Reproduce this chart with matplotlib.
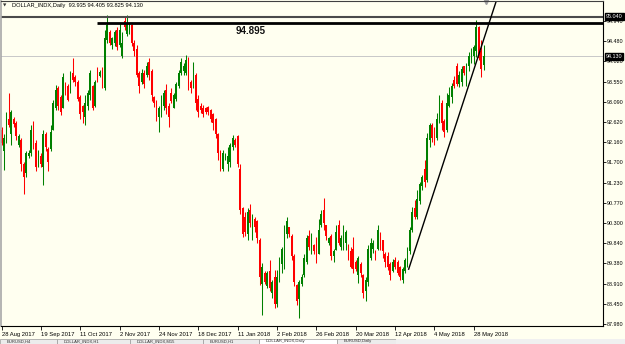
import matplotlib
matplotlib.use("Agg")
import matplotlib.pyplot as plt
import numpy as np
from matplotlib.patches import Rectangle

# DOLLAR_INDX daily candles, 28 Aug 2017 -> 1 Jun 2018
opens = [92.45, 91.95, 92.20, 92.70, 92.35, 92.70, 92.60, 92.10, 92.20, 91.65,
         91.45, 91.85, 91.90, 92.40, 92.15, 91.65, 91.85, 91.60, 92.35, 92.00,
         92.00, 92.45, 92.95, 93.40, 93.20, 92.95, 93.50, 93.45, 93.30, 93.75,
         93.65, 93.55, 93.20, 93.00, 92.75, 93.00, 93.25, 93.45, 93.00, 93.75,
         93.68, 93.80, 93.40, 94.50, 94.70, 94.40, 94.45, 94.75, 94.40, 94.15,
         94.95, 94.65, 94.70, 94.85, 94.45, 94.30, 93.75, 93.55, 93.75, 93.70,
         94.00, 93.80, 93.20, 93.05, 92.75, 92.85, 93.00, 93.35, 93.00, 93.30,
         92.95, 93.15, 93.45, 93.75, 93.80, 93.75, 94.05, 93.55, 93.45, 93.70,
         93.15, 93.00, 92.95, 92.95, 92.98, 92.90, 92.80, 92.70, 92.35, 91.95,
         91.55, 91.80, 91.65, 91.70, 92.05, 92.20, 92.30, 91.55, 90.65, 90.45,
         90.05, 90.60, 90.00, 90.40, 90.35, 89.90, 88.90, 89.15, 88.85, 89.20,
         88.70, 89.05, 88.45, 89.00, 89.35, 89.65, 90.05, 90.20, 90.00, 89.55,
         88.88, 88.55, 88.90, 89.10, 89.40, 90.00, 89.65, 89.80, 89.90, 89.60,
         90.25, 90.60, 90.25, 89.85, 90.00, 89.55, 89.68, 90.25, 89.75, 89.75,
         89.85, 89.80, 89.65, 89.70, 89.40, 89.10, 89.35, 89.10, 88.75, 88.95,
         89.50, 89.70, 89.65, 89.70, 90.05, 89.90, 89.60, 89.55, 89.35, 89.20,
         89.45, 89.40, 89.30, 89.00, 89.20, 89.40, 89.65, 90.15, 90.65, 90.45,
         90.80, 91.15, 91.55, 91.30, 92.20, 92.55, 92.35, 92.25, 92.65, 93.05,
         92.65, 92.45, 93.00, 93.20, 93.60, 93.90, 93.50, 93.55, 93.90, 93.70,
         93.90, 94.05, 94.15, 94.25, 94.80, 94.25, 93.935]
highs = [92.50, 92.35, 92.85, 93.28, 92.90, 92.75, 92.65, 92.35, 92.25, 91.70,
         91.95, 91.98, 92.55, 92.65, 92.20, 91.98, 91.90, 92.45, 92.40, 92.05,
         92.55, 93.13, 93.47, 93.45, 93.25, 93.75, 93.55, 93.50, 93.80, 94.10,
         93.70, 93.60, 93.25, 93.02, 93.25, 93.36, 93.82, 93.48, 93.60, 93.89,
         93.82, 93.88, 94.74, 95.08, 94.75, 94.58, 94.74, 94.80, 94.90, 94.70,
         95.04, 95.08, 94.90, 94.88, 94.50, 94.40, 93.80, 93.85, 93.82, 94.00,
         94.10, 93.85, 93.22, 93.12, 93.00, 93.25, 93.36, 93.50, 93.05, 93.40,
         93.28, 93.55, 93.82, 94.10, 93.98, 94.16, 94.12, 93.60, 94.00, 93.75,
         93.25, 93.05, 93.01, 92.98, 93.00, 92.92, 92.82, 92.72, 92.37, 91.98,
         91.98, 91.90, 92.05, 92.15, 92.32, 92.25, 92.32, 91.65, 90.67, 90.55,
         90.65, 90.75, 90.50, 90.45, 90.37, 89.95, 89.38, 89.20, 89.20, 89.45,
         89.00, 89.22, 89.22, 89.52, 89.75, 90.26, 90.44, 90.22, 90.05, 89.58,
         88.90, 89.00, 89.12, 89.60, 90.03, 90.14, 90.08, 89.82, 89.98, 90.40,
         90.60, 90.88, 90.26, 89.98, 90.05, 89.70, 90.26, 90.37, 90.03, 90.26,
         90.14, 89.82, 89.75, 89.98, 89.45, 89.55, 89.40, 89.12, 89.05, 89.80,
         89.95, 89.91, 89.68, 90.26, 90.10, 89.91, 89.63, 89.63, 89.40, 89.48,
         89.52, 89.45, 89.32, 89.30, 89.50, 89.75, 90.20, 90.67, 90.83, 91.06,
         91.25, 91.40, 91.75, 92.37, 92.60, 92.60, 92.50, 92.83, 93.25, 93.13,
         92.70, 93.30, 93.43, 93.52, 93.68, 93.98, 93.80, 93.92, 93.92, 93.98,
         94.23, 94.32, 94.40, 94.97, 94.82, 94.50, 94.405]
lows = [92.10, 91.52, 92.15, 92.50, 92.10, 92.50, 92.20, 92.05, 91.50, 90.98,
        91.35, 91.80, 91.85, 92.00, 91.50, 91.60, 91.60, 91.18, 91.95, 91.50,
        91.95, 92.45, 92.90, 92.90, 92.78, 92.95, 93.25, 93.10, 93.28, 93.55,
        93.45, 93.10, 92.70, 92.60, 92.55, 92.90, 93.13, 92.90, 92.98, 93.55,
        93.65, 93.40, 93.36, 94.45, 94.40, 94.30, 94.38, 94.28, 94.35, 94.10,
        94.75, 94.60, 94.65, 94.38, 94.15, 93.65, 93.30, 93.50, 93.40, 93.65,
        93.60, 93.10, 92.98, 92.65, 92.40, 92.75, 92.90, 92.80, 92.50, 93.05,
        92.95, 93.10, 93.40, 93.70, 93.70, 93.70, 93.36, 93.30, 93.40, 92.90,
        92.75, 92.82, 92.75, 92.80, 92.78, 92.62, 92.45, 92.25, 91.75, 91.50,
        91.50, 91.75, 91.50, 91.60, 91.98, 92.05, 91.60, 90.50, 89.98, 90.00,
        89.91, 90.20, 89.91, 90.10, 89.85, 88.88, 88.19, 88.90, 88.80, 88.75,
        88.58, 88.35, 88.38, 88.95, 89.15, 89.25, 89.95, 89.98, 89.45, 88.85,
        88.42, 88.12, 88.85, 89.05, 89.35, 89.68, 89.60, 89.60, 89.38, 89.60,
        90.20, 90.14, 89.90, 89.80, 89.45, 89.40, 89.68, 89.80, 89.68, 89.68,
        89.68, 89.45, 89.27, 89.15, 89.20, 88.92, 89.05, 88.58, 88.50, 88.85,
        89.45, 89.62, 89.45, 89.68, 89.68, 89.50, 89.30, 89.22, 88.99, 89.18,
        89.25, 89.11, 89.00, 88.92, 89.15, 89.28, 89.60, 90.10, 90.40, 90.40,
        90.75, 91.05, 91.13, 91.25, 92.05, 92.16, 92.10, 92.20, 92.60, 92.44,
        92.28, 92.40, 92.98, 93.05, 93.40, 93.45, 93.43, 93.45, 93.70, 93.45,
        93.80, 93.98, 93.95, 94.12, 94.05, 93.66, 93.825]
closes = [92.15, 92.25, 92.70, 92.55, 92.85, 92.58, 92.30, 92.30, 91.65, 91.35,
          91.90, 91.90, 92.45, 92.10, 91.60, 91.90, 91.65, 92.35, 92.05, 91.70,
          92.40, 93.05, 93.35, 93.00, 92.85, 93.65, 93.30, 93.12, 93.75, 93.60,
          93.55, 93.15, 92.80, 92.85, 93.05, 93.30, 93.75, 92.95, 93.55, 93.60,
          93.78, 93.45, 94.55, 94.85, 94.45, 94.55, 94.70, 94.35, 94.75, 94.45,
          94.80, 94.90, 94.85, 94.45, 94.25, 93.70, 93.45, 93.75, 93.50, 93.90,
          93.70, 93.25, 93.05, 92.80, 92.95, 93.20, 93.30, 92.95, 92.75, 93.10,
          93.25, 93.50, 93.75, 94.00, 93.90, 94.05, 93.40, 93.40, 93.90, 93.05,
          92.85, 92.90, 92.80, 92.85, 92.85, 92.70, 92.60, 92.35, 91.90, 91.60,
          91.90, 91.85, 91.85, 92.10, 92.25, 92.10, 91.65, 90.60, 90.05, 90.10,
          90.55, 90.30, 90.40, 90.20, 89.95, 89.05, 89.30, 88.95, 89.15, 88.80,
          88.95, 88.45, 89.05, 89.45, 89.70, 90.10, 90.35, 90.05, 89.55, 88.95,
          88.50, 88.95, 89.05, 89.50, 89.95, 89.75, 89.90, 89.65, 89.50, 90.15,
          90.50, 90.30, 90.00, 89.95, 89.55, 89.65, 90.10, 89.85, 89.95, 90.15,
          90.10, 89.50, 89.30, 89.25, 89.25, 89.50, 89.15, 88.70, 89.00, 89.70,
          89.85, 89.85, 89.50, 90.15, 89.80, 89.65, 89.40, 89.30, 89.10, 89.40,
          89.30, 89.15, 89.05, 89.25, 89.45, 89.70, 90.15, 90.55, 90.45, 90.85,
          91.20, 91.35, 91.25, 92.25, 92.55, 92.25, 92.20, 92.70, 93.05, 92.60,
          92.40, 93.05, 93.25, 93.45, 93.45, 93.50, 93.70, 93.85, 93.75, 93.95,
          94.15, 94.28, 94.35, 94.80, 94.10, 93.85, 94.13]

date_labels = ["28 Aug 2017", "19 Sep 2017", "11 Oct 2017", "2 Nov 2017", "24 Nov 2017",
               "18 Dec 2017", "11 Jan 2018", "2 Feb 2018", "26 Feb 2018", "20 Mar 2018",
               "12 Apr 2018", "4 May 2018", "28 May 2018"]
price_ticks = [94.940, 94.480, 94.020, 93.550, 93.090, 92.620, 92.160, 91.700,
               91.230, 90.770, 90.300, 89.840, 89.380, 88.910, 88.450, 87.980]

resistance = 94.895      # horizontal line drawn by hand
upper_line = 95.040
last_price = 94.130
trend_x = [165.5, 198.6]  # support trend line points (bar, price)
trend_y = [89.24, 94.97]

tabs = ["EURUSD,H4", "DOLLAR_INDX,H1", "DOLLAR_INDX,M15", "EURUSD,H1",
        "DOLLAR_INDX,Daily", "EURUSD,Daily"]

bg = "#fffff0"
W, H = 625, 344
fig = plt.figure(figsize=(6.25, 3.44), dpi=100, facecolor=bg)
ax = fig.add_axes([0.5 / W, (H - 326) / H, 602.5 / W, 325.5 / H])
ax.set_facecolor(bg)

o = np.array(opens); h = np.array(highs); l = np.array(lows); c = np.array(closes)
x = np.arange(len(c))
cols = np.where(c >= o, "#008000", "#ff0000")

ax.vlines(x, l, h, colors=cols, linewidth=0.75)
body = np.maximum(np.abs(c - o), 0.02)
ax.bar(x, body, bottom=np.minimum(o, c), width=0.7, color=cols, linewidth=0)

ax.axhline(last_price, color="#c8c8c8", lw=0.7, zorder=0)
ax.axhline(upper_line, color="#4a4a4a", lw=1.5)
ax.hlines(resistance, 38.8, 260, color="black", lw=2.0)
ax.text(101.4, 94.72, "94.895", fontsize=7, fontweight="bold", family="Liberation Sans",
        ha="center", va="center", color="#111111")

# extend the trend line past the top of the chart
slope = (trend_y[1] - trend_y[0]) / (trend_x[1] - trend_x[0])
tx = np.array([trend_x[0], trend_x[0] + 40])
ax.plot(tx, trend_y[0] + slope * (tx - trend_x[0]), color="black", lw=1.0)

ax.set_xlim(-0.41, 244.5)
ax.set_ylim(87.934, 95.417)

ax.yaxis.tick_right()
ax.set_yticks(price_ticks)
ax.set_yticklabels([f"{v:.3f}" for v in price_ticks])
ax.tick_params(axis="y", length=2, width=0.6, pad=1, labelsize=3.9, colors="black")
ax.set_xticks(np.arange(0, len(c), 16))
ax.set_xticklabels(date_labels)
for t in ax.get_xticklabels():
    t.set_horizontalalignment("left")
ax.tick_params(axis="x", length=3, width=0.6, pad=1.5, labelsize=4.2)
for t in ax.get_xticklabels() + ax.get_yticklabels():
    t.set_family("Liberation Sans")

ax.spines["top"].set_color("#404040")
ax.spines["left"].set_color("#a8a8a8")
ax.spines["left"].set_linewidth(1.2)
for s in ("right", "bottom"):
    ax.spines[s].set_color("black")
    ax.spines[s].set_linewidth(0.8)

for v in (upper_line, last_price):
    ax.text(1.0045, v, f"{v:.3f}", transform=ax.get_yaxis_transform(), ha="left", va="center",
            fontsize=3.9, family="Liberation Sans", color="white", clip_on=False,
            bbox=dict(boxstyle="square,pad=0.2", fc="black", ec="black"))

# chart header
fig.text(3 / W, 1 - 5.5 / H, "▼", fontsize=3.2, va="center", color="#333333")
fig.text(12 / W, 1 - 5.5 / H,
         "DOLLAR_INDX,Daily  93.935 94.405 93.825 94.130",
         fontsize=4.1, family="Liberation Sans", va="center", color="black")
ax.plot([0.806], [0.995], marker="v", markersize=3, color="#a0a0a0",
        transform=ax.transAxes, clip_on=False)

# terminal tab strip at the bottom
edges = [0, 57, 130, 203, 259, 337, 396]
strip = 5.5
for k, name in enumerate(tabs):
    x0, x1 = edges[k], edges[k + 1]
    fc = "white" if k == 4 else "#ececec"
    fig.add_artist(Rectangle((x0 / W, 0), (x1 - x0) / W, strip / H, transform=fig.transFigure,
                             fc=fc, ec="#9a9a9a", lw=0.5))
    fig.text((x0 + 7) / W, 2.6 / H, name, fontsize=3.0, family="Liberation Sans",
             va="center", color="#303030")
fig.add_artist(Rectangle((396 / W, 0), (W - 396) / W, strip / H, transform=fig.transFigure,
                         fc="#f0f0f0", ec="none"))

fig.savefig("out.png", dpi=100, facecolor=bg)
